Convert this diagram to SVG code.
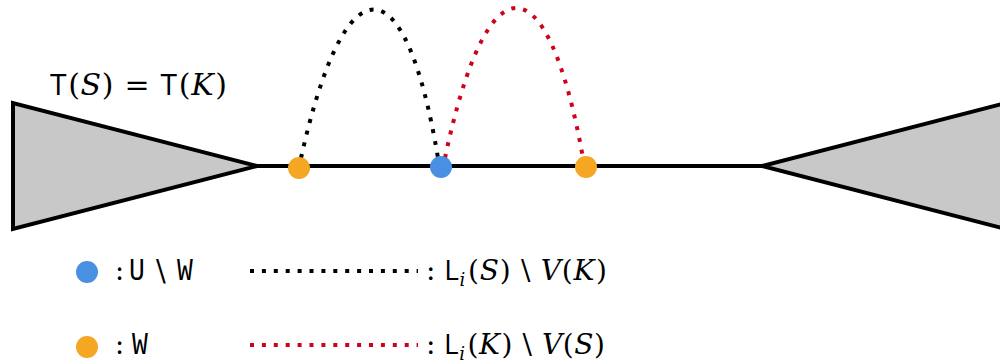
<svg xmlns="http://www.w3.org/2000/svg" width="1000" height="364" viewBox="0 0 1000 364">
<style>
.tri{fill:#C8C8C8;stroke:#000;stroke-width:4;stroke-linejoin:miter}
.edge{stroke:#000;stroke-width:4;fill:none}
.dotb{fill:none;stroke:#000;stroke-width:4;stroke-dasharray:4 8}
.dotr{fill:none;stroke:#D0021B;stroke-width:4;stroke-dasharray:4 8}
.orange{fill:#F5A623}
.blue{fill:#4A90E2}
.sf{font-family:"Open Sans","DejaVu Sans",sans-serif}
.rm{font-family:"DejaVu Serif","Liberation Serif",serif}
.it{font-family:"DejaVu Serif","Liberation Serif",serif;font-style:italic}
.tt{font-family:"Liberation Mono","DejaVu Sans Mono",monospace}
text{fill:#000}
</style>
<g id="left-tree"><polygon class="tri" points="13,103 13,229 257,166"/></g>
<g id="right-tree"><polygon class="tri" points="762,166 1006,103 1006,229"/></g>
<g id="connectors">
<line class="edge" x1="257" y1="166" x2="762" y2="166"/>
<path class="dotb" d="M301,158 C345,-40 405,-40 438,158"/>
<path class="dotr" d="M445,158 C487,-42 547,-42 583,158"/>
</g>
<g id="node-w1"><circle class="orange" cx="299" cy="168" r="11"/></g>
<g id="node-u"><circle class="blue" cx="441" cy="167" r="11"/></g>
<g id="node-w2"><circle class="orange" cx="586" cy="167" r="11"/></g>
<g id="title">
<text x="50" y="95" font-size="30" textLength="177" lengthAdjust="spacing"><tspan class="sf">T</tspan><tspan class="rm" dx="1">(</tspan><tspan class="it">S</tspan><tspan class="rm">)</tspan><tspan class="rm"> = </tspan><tspan class="sf">T</tspan><tspan class="rm" dx="1">(</tspan><tspan class="it">K</tspan><tspan class="rm" dx="1">)</tspan></text>
</g>
<g id="legend-blue">
<circle class="blue" cx="87" cy="272" r="11"/>
<text class="rm" x="115" y="280" font-size="27">:</text>
<text class="tt" transform="translate(129,280) scale(0.85,1)" font-size="31">U</text>
<text class="rm" x="156" y="281" font-size="29">\</text>
<text class="tt" transform="translate(177,280) scale(0.85,1)" font-size="31">W</text>
</g>
<g id="legend-orange">
<circle class="orange" cx="87" cy="347" r="11"/>
<text class="rm" x="115" y="354" font-size="27">:</text>
<text class="tt" transform="translate(132,354) scale(0.85,1)" font-size="31">W</text>
</g>
<g id="legend-black">
<line class="dotb" x1="250" y1="271" x2="418" y2="271" style="stroke-dasharray:4 7.9"/>
<text x="426" y="280" font-size="28" textLength="181" lengthAdjust="spacing"><tspan class="rm">:</tspan><tspan class="sf" dx="8">L</tspan><tspan class="it" font-size="18" dy="6">i</tspan><tspan class="rm" dy="-6" dx="2">(</tspan><tspan class="it">S</tspan><tspan class="rm">)</tspan><tspan class="rm"> \ </tspan><tspan class="it">V</tspan><tspan class="rm">(</tspan><tspan class="it">K</tspan><tspan class="rm" dx="1">)</tspan></text>
</g>
<g id="legend-red">
<line class="dotr" x1="250" y1="345" x2="418" y2="345" style="stroke-dasharray:4 7.9"/>
<text x="426" y="354" font-size="28" textLength="179" lengthAdjust="spacing"><tspan class="rm">:</tspan><tspan class="sf" dx="8">L</tspan><tspan class="it" font-size="18" dy="6">i</tspan><tspan class="rm" dy="-6" dx="2">(</tspan><tspan class="it">K</tspan><tspan class="rm" dx="1">)</tspan><tspan class="rm"> \ </tspan><tspan class="it">V</tspan><tspan class="rm">(</tspan><tspan class="it">S</tspan><tspan class="rm">)</tspan></text>
</g>
</svg>
